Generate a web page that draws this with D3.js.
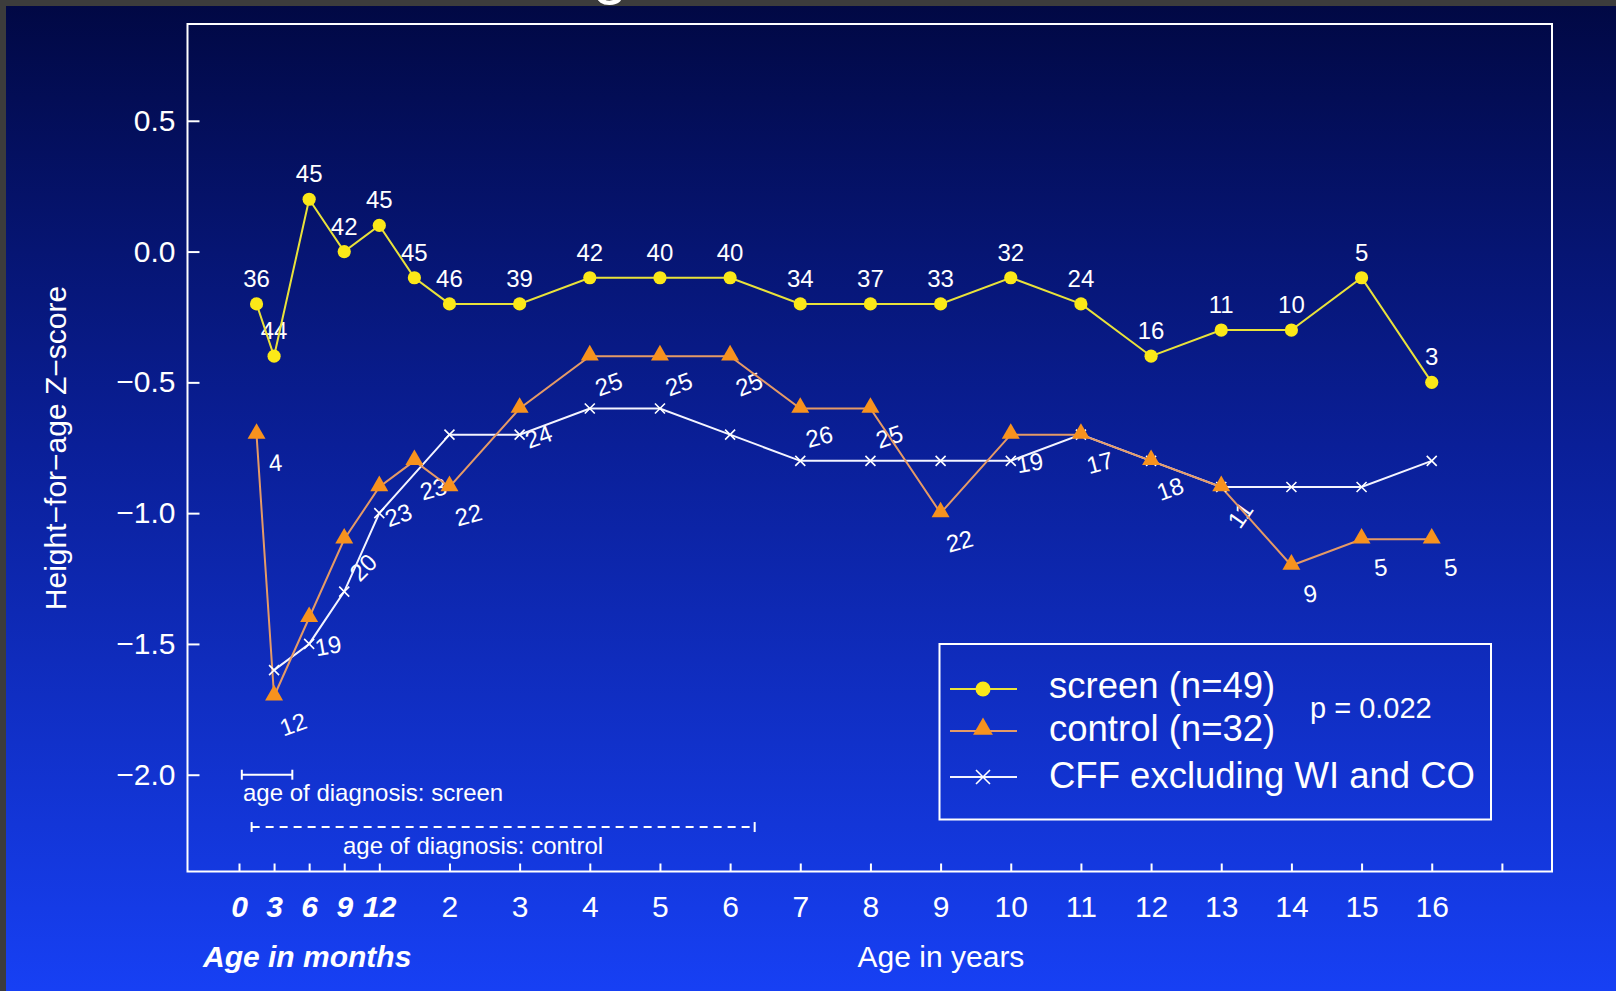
<!DOCTYPE html>
<html>
<head>
<meta charset="utf-8">
<script src="https://cdn.jsdelivr.net/npm/d3@7"></script>
<style>
  body { margin: 0; background: #3c3c3c; }
  text { font-family: "Liberation Sans", Arial, Helvetica, sans-serif; fill: #fff; }
</style>
</head>
<body>
<svg id="chart" width="1616" height="991"></svg>
<script>
// values (age in years, z-score, n per point)
const ageYears = [0.125, 0.25, 0.5, 0.75, 1, 1.5, 2, 3, 4, 5, 6, 7, 8, 9, 10, 11, 12, 13, 14, 15, 16];
const screenZ = [-0.2, -0.4, 0.2, 0.0, 0.1, -0.1, -0.2, -0.2, -0.1, -0.1, -0.1, -0.2, -0.2, -0.2, -0.1, -0.2, -0.4, -0.3, -0.3, -0.1, -0.5];
const screenN = [36, 44, 45, 42, 45, 45, 46, 39, 42, 40, 40, 34, 37, 33, 32, 24, 16, 11, 10, 5, 3];
const controlZ = [-0.7, -1.7, -1.4, -1.1, -0.9, -0.8, -0.9, -0.6, -0.4, -0.4, -0.4, -0.6, -0.6, -1.0, -0.7, -0.7, -0.8, -0.9, -1.2, -1.1, -1.1];
const controlN = [4, 12, 19, 20, 23, 23, 22, 24, 25, 25, 25, 26, 25, 22, 19, 17, 18, 11, 9, 5, 5];
const cffAge = [0.25, 0.5, 0.75, 1, 2, 3, 4, 5, 6, 7, 8, 9, 10, 11, 12, 13, 14, 15, 16];
const cffZ = [-1.6, -1.5, -1.3, -1.0, -0.7, -0.7, -0.6, -0.6, -0.7, -0.8, -0.8, -0.8, -0.8, -0.7, -0.8, -0.9, -0.9, -0.9, -0.8];

const tickAges = [0, 0.25, 0.5, 0.75, 1, 2, 3, 4, 5, 6, 7, 8, 9, 10, 11, 12, 13, 14, 15, 16, 17];
const tickLabels = ['0', '3', '6', '9', '12', '2', '3', '4', '5', '6', '7', '8', '9', '10', '11', '12', '13', '14', '15', '16', ''];
const yTicks = [-2.0, -1.5, -1.0, -0.5, 0.0, 0.5];

const diagScreen = [0.02, 0.38];   // years, drawn at z = -2.0
const diagControl = [0.09, 6.35];  // years, drawn at z = -2.2

// tilt of the hand-placed n labels under the control line (style only)
const controlTilt = [-5, -20, -10, -45, -20, -15, -15, -20, -20, -20, -22, -15, -18, -15, -10, -15, -20, -55, -10, -5, -5];

const W = 1616, H = 991;
const box = { left: 187.5, right: 1552, top: 24, bottom: 871.5 };

const svg = d3.select('#chart');

// background
const defs = svg.append('defs');
const grad = defs.append('linearGradient').attr('id', 'bg')
  .attr('x1', 0).attr('y1', 0).attr('x2', 0).attr('y2', 1);
grad.append('stop').attr('offset', '0%').attr('stop-color', '#010843');
grad.append('stop').attr('offset', '45%').attr('stop-color', '#0a1f98');
grad.append('stop').attr('offset', '100%').attr('stop-color', '#1740f4');
svg.append('rect').attr('width', W).attr('height', H).attr('fill', 'url(#bg)');
svg.append('rect').attr('width', W).attr('height', 6).attr('fill', '#3c3c3c');
svg.append('rect').attr('width', 6).attr('height', H).attr('fill', '#3c3c3c');
// cut-off title glyph at the very top
svg.append('text').attr('x', 610).attr('y', -8).attr('text-anchor', 'middle')
  .attr('font-size', 64).text('g');

// the first year is stretched to twice the width of later years
const x = d3.scaleLinear().domain([0, 1, 17]).range([239, 379.3, 1501.9]);
const y = d3.scaleLinear().domain([-2.37, 0.87]).range([box.bottom, box.top]);

// axes, ticks pointing inward
const xAxis = svg.append('g').attr('transform', `translate(0,${box.bottom})`)
  .call(d3.axisBottom(x).tickValues(tickAges).tickSize(-8).tickSizeOuter(0).tickPadding(24)
    .tickFormat((d, i) => tickLabels[i]));
xAxis.select('.domain').remove();
xAxis.selectAll('line').attr('stroke', '#fff').attr('stroke-width', 2);
xAxis.selectAll('text').attr('font-size', 30).attr('fill', '#fff')
  .attr('font-family', '"Liberation Sans", Arial, sans-serif')
  .filter(d => d <= 1).attr('font-weight', 'bold').attr('font-style', 'italic');

const yAxis = svg.append('g').attr('transform', `translate(${box.left},0)`)
  .call(d3.axisLeft(y).tickValues(yTicks).tickSize(-12).tickSizeOuter(0).tickPadding(12)
    .tickFormat(d3.format('.1f')));
yAxis.select('.domain').remove();
yAxis.selectAll('line').attr('stroke', '#fff').attr('stroke-width', 2);
yAxis.selectAll('text').attr('font-size', 30).attr('fill', '#fff')
  .attr('font-family', '"Liberation Sans", Arial, sans-serif');

svg.append('rect')
  .attr('x', box.left).attr('y', box.top)
  .attr('width', box.right - box.left).attr('height', box.bottom - box.top)
  .attr('fill', 'none').attr('stroke', '#fff').attr('stroke-width', 2);

svg.append('text').attr('transform', 'translate(66,448) rotate(-90)')
  .attr('text-anchor', 'middle').attr('font-size', 30).text('Height\u2212for\u2212age Z\u2212score');
svg.append('text').attr('x', 203).attr('y', 967).attr('font-size', 30)
  .attr('font-weight', 'bold').attr('font-style', 'italic').text('Age in months');
svg.append('text').attr('x', 941).attr('y', 967).attr('text-anchor', 'middle')
  .attr('font-size', 30).text('Age in years');

// age of diagnosis bars
function rangeBar(span, z, dash) {
  const g = svg.append('g').attr('stroke', '#fff').attr('stroke-width', 2);
  g.append('line').attr('x1', x(span[0])).attr('x2', x(span[1]))
    .attr('y1', y(z)).attr('y2', y(z)).attr('stroke-dasharray', dash);
  span.forEach(a => g.append('line').attr('x1', x(a)).attr('x2', x(a))
    .attr('y1', y(z) - 5).attr('y2', y(z) + 5));
}
rangeBar(diagScreen, -2.0, null);
rangeBar(diagControl, -2.2, '8,6');
svg.append('text').attr('x', 243).attr('y', 801).attr('font-size', 24).text('age of diagnosis: screen');
svg.append('text').attr('x', 343).attr('y', 854).attr('font-size', 24).text('age of diagnosis: control');

// n labels (drawn under the lines, as in the original)
svg.append('g').selectAll('text').data(screenN).join('text')
  .attr('x', (d, i) => x(ageYears[i])).attr('y', (d, i) => y(screenZ[i]) - 17)
  .attr('text-anchor', 'middle').attr('font-size', 24).text(d => d);

svg.append('g').selectAll('text').data(controlN).join('text')
  .attr('transform', (d, i) => `translate(${x(ageYears[i]) + 19},${y(controlZ[i]) + 28}) rotate(${controlTilt[i]})`)
  .attr('text-anchor', 'middle').attr('dy', '0.35em').attr('font-size', 24).text(d => d);

// lines
const line = d3.line();
const cffPts = cffAge.map((a, i) => [x(a), y(cffZ[i])]);
const controlPts = ageYears.map((a, i) => [x(a), y(controlZ[i])]);
const screenPts = ageYears.map((a, i) => [x(a), y(screenZ[i])]);

svg.append('path').attr('d', line(cffPts)).attr('fill', 'none').attr('stroke', '#f4f4ff').attr('stroke-width', 2);
svg.append('path').attr('d', line(controlPts)).attr('fill', 'none').attr('stroke', '#e59a66').attr('stroke-width', 2);
svg.append('path').attr('d', line(screenPts)).attr('fill', 'none').attr('stroke', '#e9e23a').attr('stroke-width', 2);

const xMark = (cx, cy, r) => `M${cx - r},${cy - r}L${cx + r},${cy + r}M${cx - r},${cy + r}L${cx + r},${cy - r}`;
const tri = d3.symbol(d3.symbolTriangle, 140);

svg.append('g').selectAll('path').data(cffPts).join('path')
  .attr('d', p => xMark(p[0], p[1], 5)).attr('stroke', '#fff').attr('stroke-width', 1.6);
svg.append('g').selectAll('path').data(controlPts).join('path')
  .attr('transform', p => `translate(${p[0]},${p[1] - 1})`).attr('d', tri).attr('fill', '#f7921e');
svg.append('g').selectAll('circle').data(screenPts).join('circle')
  .attr('cx', p => p[0]).attr('cy', p => p[1]).attr('r', 6.6).attr('fill', '#fbe818');

// legend
const leg = svg.append('g');
leg.append('rect').attr('x', 939.5).attr('y', 644).attr('width', 551.5).attr('height', 175.5)
  .attr('fill', 'none').attr('stroke', '#fff').attr('stroke-width', 2);
const legRows = [
  { label: 'screen (n=49)', color: '#e9e23a', mark: 'circle', ly: 689, ty: 698 },
  { label: 'control (n=32)', color: '#e59a66', mark: 'tri', ly: 731, ty: 741 },
  { label: 'CFF excluding WI and CO', color: '#f4f4ff', mark: 'x', ly: 777, ty: 788 }
];
legRows.forEach(r => {
  leg.append('line').attr('x1', 950).attr('x2', 1017).attr('y1', r.ly).attr('y2', r.ly)
    .attr('stroke', r.color).attr('stroke-width', 2);
  if (r.mark === 'circle') leg.append('circle').attr('cx', 983).attr('cy', r.ly).attr('r', 7.5).attr('fill', '#fbe818');
  if (r.mark === 'tri') leg.append('path').attr('transform', `translate(983,${r.ly - 2})`)
    .attr('d', d3.symbol(d3.symbolTriangle, 170)).attr('fill', '#f7921e');
  if (r.mark === 'x') leg.append('path').attr('d', xMark(983, r.ly, 7)).attr('stroke', '#fff').attr('stroke-width', 1.6);
  leg.append('text').attr('x', 1049).attr('y', r.ty).attr('font-size', 36.5).text(r.label);
});
leg.append('text').attr('x', 1310).attr('y', 718).attr('font-size', 29).text('p = 0.022');
</script>
</body>
</html>
